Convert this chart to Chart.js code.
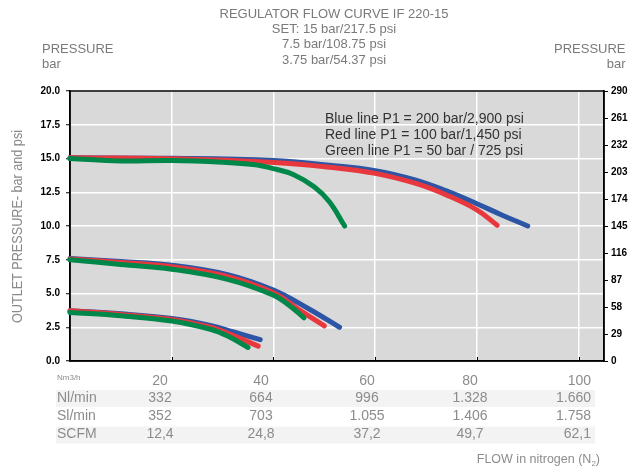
<!DOCTYPE html>
<html>
<head>
<meta charset="utf-8">
<script src="https://cdn.jsdelivr.net/npm/chart.js@4/dist/chart.umd.min.js"></script>
<style>
  html, body { margin: 0; padding: 0; background: #fff; }
  #wrap { width: 638px; height: 474px; }
</style>
</head>
<body>
<div id="wrap"><canvas id="flow" width="638" height="474"></canvas></div>
<script>
// Regulator IF 220-15: outlet pressure (bar) against nitrogen flow (Nm3/h)
// Set point 15 bar
const flowBlue15  = [0, 20, 40, 51, 60, 68, 74, 80, 85, 90];
const presBlue15  = [15.05, 15.02, 14.85, 14.5, 14.1, 13.4, 12.6, 11.65, 10.8, 10.0];
const flowRed15   = [0, 20, 40, 51, 60, 68, 74, 80, 84];
const presRed15   = [15.05, 14.98, 14.7, 14.35, 13.9, 13.15, 12.3, 11.2, 10.05];
const flowGreen15 = [0, 10, 20, 30, 36, 40, 44, 48, 51, 54];
const presGreen15 = [15.0, 14.82, 14.85, 14.72, 14.55, 14.25, 13.8, 12.9, 11.8, 10.0];
// Set point 7.5 bar
const flowBlue7  = [0, 10, 20, 31, 40, 47, 53];
const presBlue7  = [7.6, 7.37, 7.1, 6.4, 5.25, 3.85, 2.5];
const flowRed7   = [0, 10, 20, 31, 40, 45, 50];
const presRed7   = [7.55, 7.3, 6.98, 6.25, 5.05, 3.8, 2.6];
const flowGreen7 = [0, 10, 20, 31, 40, 43, 46];
const presGreen7 = [7.5, 7.15, 6.8, 6.05, 4.88, 4.15, 3.2];
// Set point 3.75 bar
const flowBlue3  = [0, 10, 20, 27.6, 32.2, 37.4];
const presBlue3  = [3.72, 3.5, 3.15, 2.64, 2.15, 1.58];
const flowRed3   = [0, 10, 20, 27.6, 32, 37];
const presRed3   = [3.72, 3.45, 3.07, 2.5, 1.9, 1.1];
const flowGreen3 = [0, 10, 20, 27.6, 31, 35];
const presGreen3 = [3.6, 3.35, 2.96, 2.35, 1.85, 1.0];

// Flow conversion table shown under the plot
const tableFlow = ['20', '40', '60', '80', '100'];
const tableNl   = ['332', '664', '996', '1.328', '1.660'];
const tableSl   = ['352', '703', '1.055', '1.406', '1.758'];
const tableScfm = ['12,4', '24,8', '37,2', '49,7', '62,1'];

const titleLines = ['REGULATOR FLOW CURVE IF 220-15', 'SET: 15 bar/217.5 psi', '7.5 bar/108.75 psi', '3.75 bar/54.37 psi'];
const legendLines = ['Blue line P1 = 200 bar/2,900 psi', 'Red line P1 = 100 bar/1,450 psi', 'Green line P1 = 50 bar / 725 psi'];

const BLUE = '#2d55a5', RED = '#e8383d', GREEN = '#00874a';
const FONT = "'Liberation Sans', Arial, Helvetica, sans-serif";

function points(xs, ys) { return xs.map((x, i) => ({ x: x, y: ys[i] })); }
function curve(xs, ys, color, order) {
  return {
    data: points(xs, ys), borderColor: color, backgroundColor: color,
    borderWidth: 5, borderCapStyle: 'round', borderJoinStyle: 'round',
    pointRadius: 0, pointHoverRadius: 0, tension: 0.4,
    fill: false, clip: false, order: order, yAxisID: 'y'
  };
}

const datasets = [
  curve(flowGreen15, presGreen15, GREEN, 0),
  curve(flowGreen7, presGreen7, GREEN, 0),
  curve(flowGreen3, presGreen3, GREEN, 0),
  curve(flowRed15, presRed15, RED, 1),
  curve(flowRed7, presRed7, RED, 1),
  curve(flowRed3, presRed3, RED, 1),
  curve(flowBlue15, presBlue15, BLUE, 2),
  curve(flowBlue7, presBlue7, BLUE, 2),
  curve(flowBlue3, presBlue3, BLUE, 2)
];

const frame = {
  id: 'frame',
  beforeDraw(chart) {
    const { ctx, chartArea: a } = chart;
    ctx.save();
    ctx.fillStyle = '#ffffff';
    ctx.fillRect(0, 0, chart.width, chart.height);
    ctx.fillStyle = '#d9d9d9';
    ctx.fillRect(a.left, a.top, a.right - a.left, a.bottom - a.top);
    ctx.restore();
  },
  beforeDatasetsDraw(chart) {
    const { ctx, chartArea: a, scales } = chart;
    ctx.save();
    ctx.strokeStyle = '#000';
    ctx.lineWidth = 1.5;
    ctx.strokeRect(a.left, a.top, a.right - a.left, a.bottom - a.top);
    // small inward ticks on the flow axis
    ctx.lineWidth = 1;
    scales.x.ticks.forEach(t => {
      if (t.value <= 0) return;
      const px = Math.round(scales.x.getPixelForValue(t.value)) + 0.5;
      ctx.beginPath();
      ctx.moveTo(px, a.bottom);
      ctx.lineTo(px, a.bottom - 4);
      ctx.stroke();
    });
    ctx.restore();
  },
  afterDraw(chart) {
    const { ctx } = chart;
    ctx.save();
    // title block
    ctx.fillStyle = '#7a7a7a';
    ctx.font = '13px ' + FONT;
    ctx.textAlign = 'center';
    ctx.textBaseline = 'alphabetic';
    titleLines.forEach((t, i) => ctx.fillText(t, 334, 17.5 + i * 15.4));
    // axis unit captions
    ctx.textAlign = 'left';
    ctx.fillText('PRESSURE', 42, 53);
    ctx.fillText('bar', 42, 68);
    ctx.textAlign = 'right';
    ctx.fillText('PRESSURE', 625.5, 53);
    ctx.fillText('bar', 625.5, 68);
    // vertical axis title
    ctx.save();
    ctx.translate(18.5, 226.5);
    ctx.rotate(-Math.PI / 2);
    ctx.font = '14px ' + FONT;
    ctx.textAlign = 'center';
    ctx.textBaseline = 'middle';
    const vt = 'OUTLET PRESSURE- bar and psi';
    const w = ctx.measureText(vt).width;
    ctx.scale(193 / w, 1);
    ctx.fillStyle = '#8a8a8a';
    ctx.fillText(vt, 0, 0);
    ctx.restore();
    // series key inside the plot
    ctx.fillStyle = '#333333';
    ctx.font = '14px ' + FONT;
    ctx.textAlign = 'left';
    ctx.textBaseline = 'alphabetic';
    legendLines.forEach((t, i) => ctx.fillText(t, 325, 123.3 + i * 15.6));
    // conversion table
    ctx.fillStyle = '#f3f3f3';
    ctx.fillRect(56, 390, 539, 17);
    ctx.fillRect(56, 426.5, 539, 17);
    ctx.fillStyle = '#8c8c8c';
    ctx.textBaseline = 'middle';
    ctx.font = '8px ' + FONT;
    ctx.textAlign = 'left';
    ctx.fillText('Nm3/h', 57, 378);
    ctx.font = '14px ' + FONT;
    const rowY = [381.5, 398.5, 416.5, 434.5];
    const rowLabels = ['', 'Nl/min', 'Sl/min', 'SCFM'];
    const rows = [tableFlow, tableNl, tableSl, tableScfm];
    const colX = [160, 261, 367, 470, 591];
    rows.forEach((row, r) => {
      if (rowLabels[r]) { ctx.textAlign = 'left'; ctx.fillText(rowLabels[r], 57, rowY[r]); }
      row.forEach((txt, c) => {
        ctx.textAlign = c === row.length - 1 ? 'right' : 'center';
        ctx.fillText(txt, colX[c], rowY[r]);
      });
    });
    // flow caption with subscript
    ctx.textBaseline = 'alphabetic';
    ctx.textAlign = 'left';
    const p1 = 'FLOW in nitrogen (N', p3 = ')';
    ctx.font = '12.5px ' + FONT; const w1 = ctx.measureText(p1).width, w3 = ctx.measureText(p3).width;
    ctx.font = '8px ' + FONT; const w2 = ctx.measureText('2').width;
    const x0 = 600 - (w1 + w2 + w3);
    ctx.font = '12.5px ' + FONT; ctx.fillText(p1, x0, 463);
    ctx.font = '8px ' + FONT; ctx.fillText('2', x0 + w1, 466);
    ctx.font = '12.5px ' + FONT; ctx.fillText(p3, x0 + w1 + w2, 463);
    ctx.restore();
  }
};

new Chart(document.getElementById('flow'), {
  type: 'line',
  data: { datasets: datasets },
  options: {
    responsive: false,
    animation: false,
    devicePixelRatio: 1,
    layout: { padding: { top: 91, bottom: 113, left: 0, right: 0 } },
    plugins: { legend: { display: false }, tooltip: { enabled: false }, title: { display: false } },
    scales: {
      x: {
        type: 'linear', min: 0, max: 105,
        ticks: { display: false, stepSize: 20, includeBounds: false },
        grid: { color: '#ffffff', lineWidth: 1.5, drawTicks: false },
        border: { display: true, color: '#000', width: 1.5 },
        afterFit(s) { s.height = 0; }
      },
      y: {
        position: 'left', min: 0, max: 20,
        ticks: { stepSize: 2.5, padding: 6, color: '#000', font: { family: FONT, size: 10, weight: 'bold' },
                 callback: v => Number(v).toFixed(1) },
        grid: { color: '#ffffff', lineWidth: 1.5, tickLength: 4, tickColor: '#000', tickWidth: 1 },
        border: { display: true, color: '#000', width: 1.5 },
        afterFit(s) { s.width = 70; }
      },
      y2: {
        position: 'right', min: 0, max: 290,
        ticks: { stepSize: 29, padding: 3, color: '#000', font: { family: FONT, size: 10, weight: 'bold' } },
        grid: { drawOnChartArea: false, tickLength: 4, tickColor: '#000', tickWidth: 1 },
        border: { display: true, color: '#000', width: 1.5 },
        afterFit(s) { s.width = 34; }
      }
    }
  },
  plugins: [frame]
});
</script>
</body>
</html>
